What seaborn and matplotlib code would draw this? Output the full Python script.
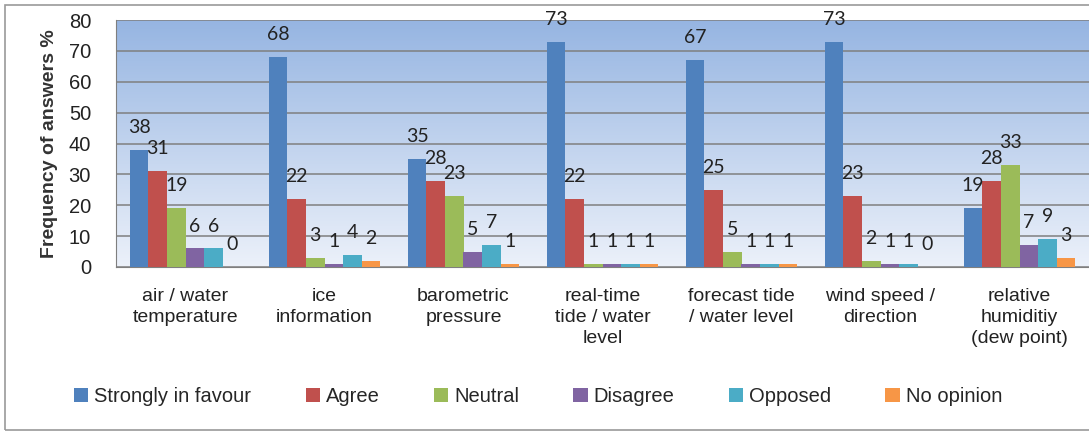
import numpy as np
import pandas as pd
import matplotlib
matplotlib.use("Agg")
import matplotlib.pyplot as plt
import seaborn as sns
from matplotlib.patches import Rectangle

# ---------------------
# Data
# ---------------------
categories = [
    "air / water\ntemperature",
    "ice\ninformation",
    "barometric\npressure",
    "real-time\ntide / water\nlevel",
    "forecast tide\n/ water level",
    "wind speed /\ndirection",
    "relative\nhumiditiy\n(dew point)",
]
series = ["Strongly in favour", "Agree", "Neutral", "Disagree", "Opposed", "No opinion"]
strongly = [38, 68, 35, 73, 67, 73, 19]
agree = [31, 22, 28, 22, 25, 23, 28]
neutral = [19, 3, 23, 1, 5, 2, 33]
disagree = [6, 1, 5, 1, 1, 1, 7]
opposed = [6, 4, 7, 1, 1, 1, 9]
no_opinion = [0, 2, 1, 1, 1, 0, 3]
colors = ["#4F81BD", "#C0504D", "#9BBB59", "#8064A2", "#4BACC6", "#F79646"]

values = [strongly, agree, neutral, disagree, opposed, no_opinion]
rows = []
for s, vals in zip(series, values):
    for c, v in zip(categories, vals):
        rows.append({"category": c, "series": s, "value": v})
df = pd.DataFrame(rows)

# ---------------------
# Plot
# ---------------------
sns.set_style("white")
plt.rcParams["font.family"] = ["Liberation Sans", "DejaVu Sans"]

fig = plt.figure(figsize=(10.89, 4.32), dpi=100)
ax = fig.add_axes([116 / 1089, 1 - 267 / 432, 1 - 116 / 1089, 247 / 432])

# gradient background of the plot area
grad = np.linspace(0, 1, 256).reshape(-1, 1)
top_c = np.array([150, 181, 226]) / 255
bot_c = np.array([236, 241, 250]) / 255
img = top_c * (1 - grad[..., None]) + bot_c * grad[..., None]
img = np.repeat(img, 2, axis=1)
ax.imshow(img, extent=[0, 1, 0, 1], transform=ax.transAxes, aspect="auto", zorder=0)

sns.barplot(data=df, x="category", y="value", hue="series", palette=colors,
            width=0.8, gap=0, saturation=1, linewidth=0, ax=ax, zorder=3, legend=True)

for cont in ax.containers:
    ax.bar_label(cont, padding=10, fontsize=14, family="Lato", color="#222222")

ax.set_ylim(0, 80)
ax.set_xlim(-0.5, len(categories) - 0.5)
ax.set_yticks(range(0, 81, 10))
ax.yaxis.grid(True, color="#7f7f7f", linewidth=1.1, zorder=1)
ax.set_axisbelow(False)
ax.tick_params(axis="y", labelsize=14.5, length=0, pad=18, labelcolor="#222222")
ax.tick_params(axis="x", labelsize=14, length=0, pad=15, labelcolor="#222222")
ax.set_xticks(range(len(categories)))
ax.set_xticklabels(categories, linespacing=1.3)
ax.set_xticks(np.arange(-0.5, len(categories), 1.0), minor=True)
ax.tick_params(axis="x", which="minor", length=8, width=1, color="#7f7f7f", direction="out")
ax.set_xlabel("")
ax.set_ylabel("Frequency of answers %", fontsize=14, fontweight="bold", color="#333333", labelpad=8)

for side in ["top", "right"]:
    ax.spines[side].set_visible(False)
ax.spines["left"].set_color("#7f7f7f")
ax.spines["bottom"].set_color("#7f7f7f")

handles, labels = ax.get_legend_handles_labels()
ax.legend_.remove()
fig.legend(handles, labels, loc="center", bbox_to_anchor=(0.494, 0.083), ncol=6,
           frameon=False, fontsize=14.5, handlelength=0.7, handleheight=0.7,
           handletextpad=0.3, columnspacing=2.7)

# outer frame
fig.patches.append(Rectangle((5 / 1089, 2 / 432), 1.1, 425 / 432, transform=fig.transFigure,
                             fill=False, edgecolor="#9a9a9a", linewidth=1.2))

fig.savefig("out.png", dpi=100)
